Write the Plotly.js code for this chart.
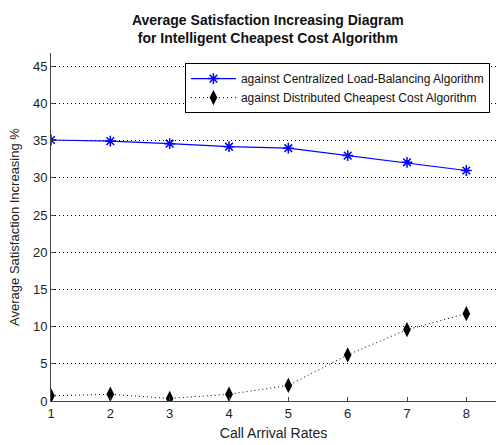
<!DOCTYPE html>
<html>
<head>
<meta charset="utf-8">
<script src="https://cdn.plot.ly/plotly-3.0.1.min.js"></script>
<style>html,body{margin:0;padding:0;background:#fff;}#chart{width:496px;height:445px;}</style>
</head>
<body>
<div id="chart"></div>
<script>
const callRates = [1, 2, 3, 4, 5, 6, 7, 8];
const centralizedLB = [35.1, 34.95, 34.6, 34.2, 34.0, 33.0, 32.1, 31.0];
const distributedCC = [0.7, 0.9, 0.35, 0.9, 2.1, 6.2, 9.6, 11.75];
const seriesNames = ["against Centralized Load-Balancing Algorithm", "against Distributed Cheapest Cost Algorithm"];
const yTicks = [0, 5, 10, 15, 20, 25, 30, 35, 40, 45];
const xTicks = [1, 2, 3, 4, 5, 6, 7, 8];

const font = "Liberation Sans, Arial, sans-serif";

const traces = [
  {
    x: callRates, y: centralizedLB, name: seriesNames[0],
    mode: "lines+markers",
    line: {color: "#0000ff", width: 1.2},
    marker: {symbol: "asterisk-open", size: 9, color: "#0000ff", line: {color: "#0000ff", width: 1.5}}
  },
  {
    x: callRates, y: distributedCC, name: seriesNames[1],
    mode: "lines+markers",
    line: {color: "#000000", width: 1, dash: "1px,3px"},
    marker: {symbol: "diamond-tall", size: 11, color: "#000000"}
  }
];

const layout = {
  width: 496, height: 445,
  margin: {l: 51, r: 0, t: 53, b: 44},
  paper_bgcolor: "#fff", plot_bgcolor: "#fff",
  font: {family: font, size: 12, color: "#222"},
  title: {
    text: "<b>Average Satisfaction Increasing Diagram<br>for Intelligent Cheapest Cost Algorithm</b>",
    font: {family: font, size: 14, color: "#111"},
    xref: "container", yref: "container", x: 0.54, y: 0.944,
    xanchor: "center", yanchor: "middle"
  },
  xaxis: {
    range: [1, 8.5], tickvals: xTicks, ticktext: xTicks.map(String),
    showgrid: false, zeroline: false,
    showline: true, linecolor: "#444", linewidth: 1,
    ticks: "inside", ticklen: 4, tickcolor: "#444",
    tickfont: {size: 13, color: "#222"},
    title: {text: "Call Arrival Rates", font: {size: 14, color: "#222"}, standoff: 8}
  },
  yaxis: {
    range: [0, 46.8], tickvals: yTicks, ticktext: yTicks.map(String),
    showgrid: true, gridcolor: "#000", gridwidth: 1, griddash: "1px,3px",
    zeroline: false,
    showline: true, linecolor: "#444", linewidth: 1,
    ticks: "inside", ticklen: 4, tickcolor: "#444",
    tickfont: {size: 13, color: "#222"},
    title: {text: "Average Satisfaction Increasing %", font: {size: 13, color: "#222"}, standoff: 10}
  },
  showlegend: true,
  legend: {
    x: 0.301, y: 0.971, xanchor: "left", yanchor: "top",
    bgcolor: "#fff", bordercolor: "#000", borderwidth: 1,
    font: {family: font, size: 12, color: "#111"},
    itemwidth: 45,
    tracegroupgap: 0
  }
};

Plotly.newPlot("chart", traces, layout, {displayModeBar: false, staticPlot: true});
</script>
</body>
</html>
